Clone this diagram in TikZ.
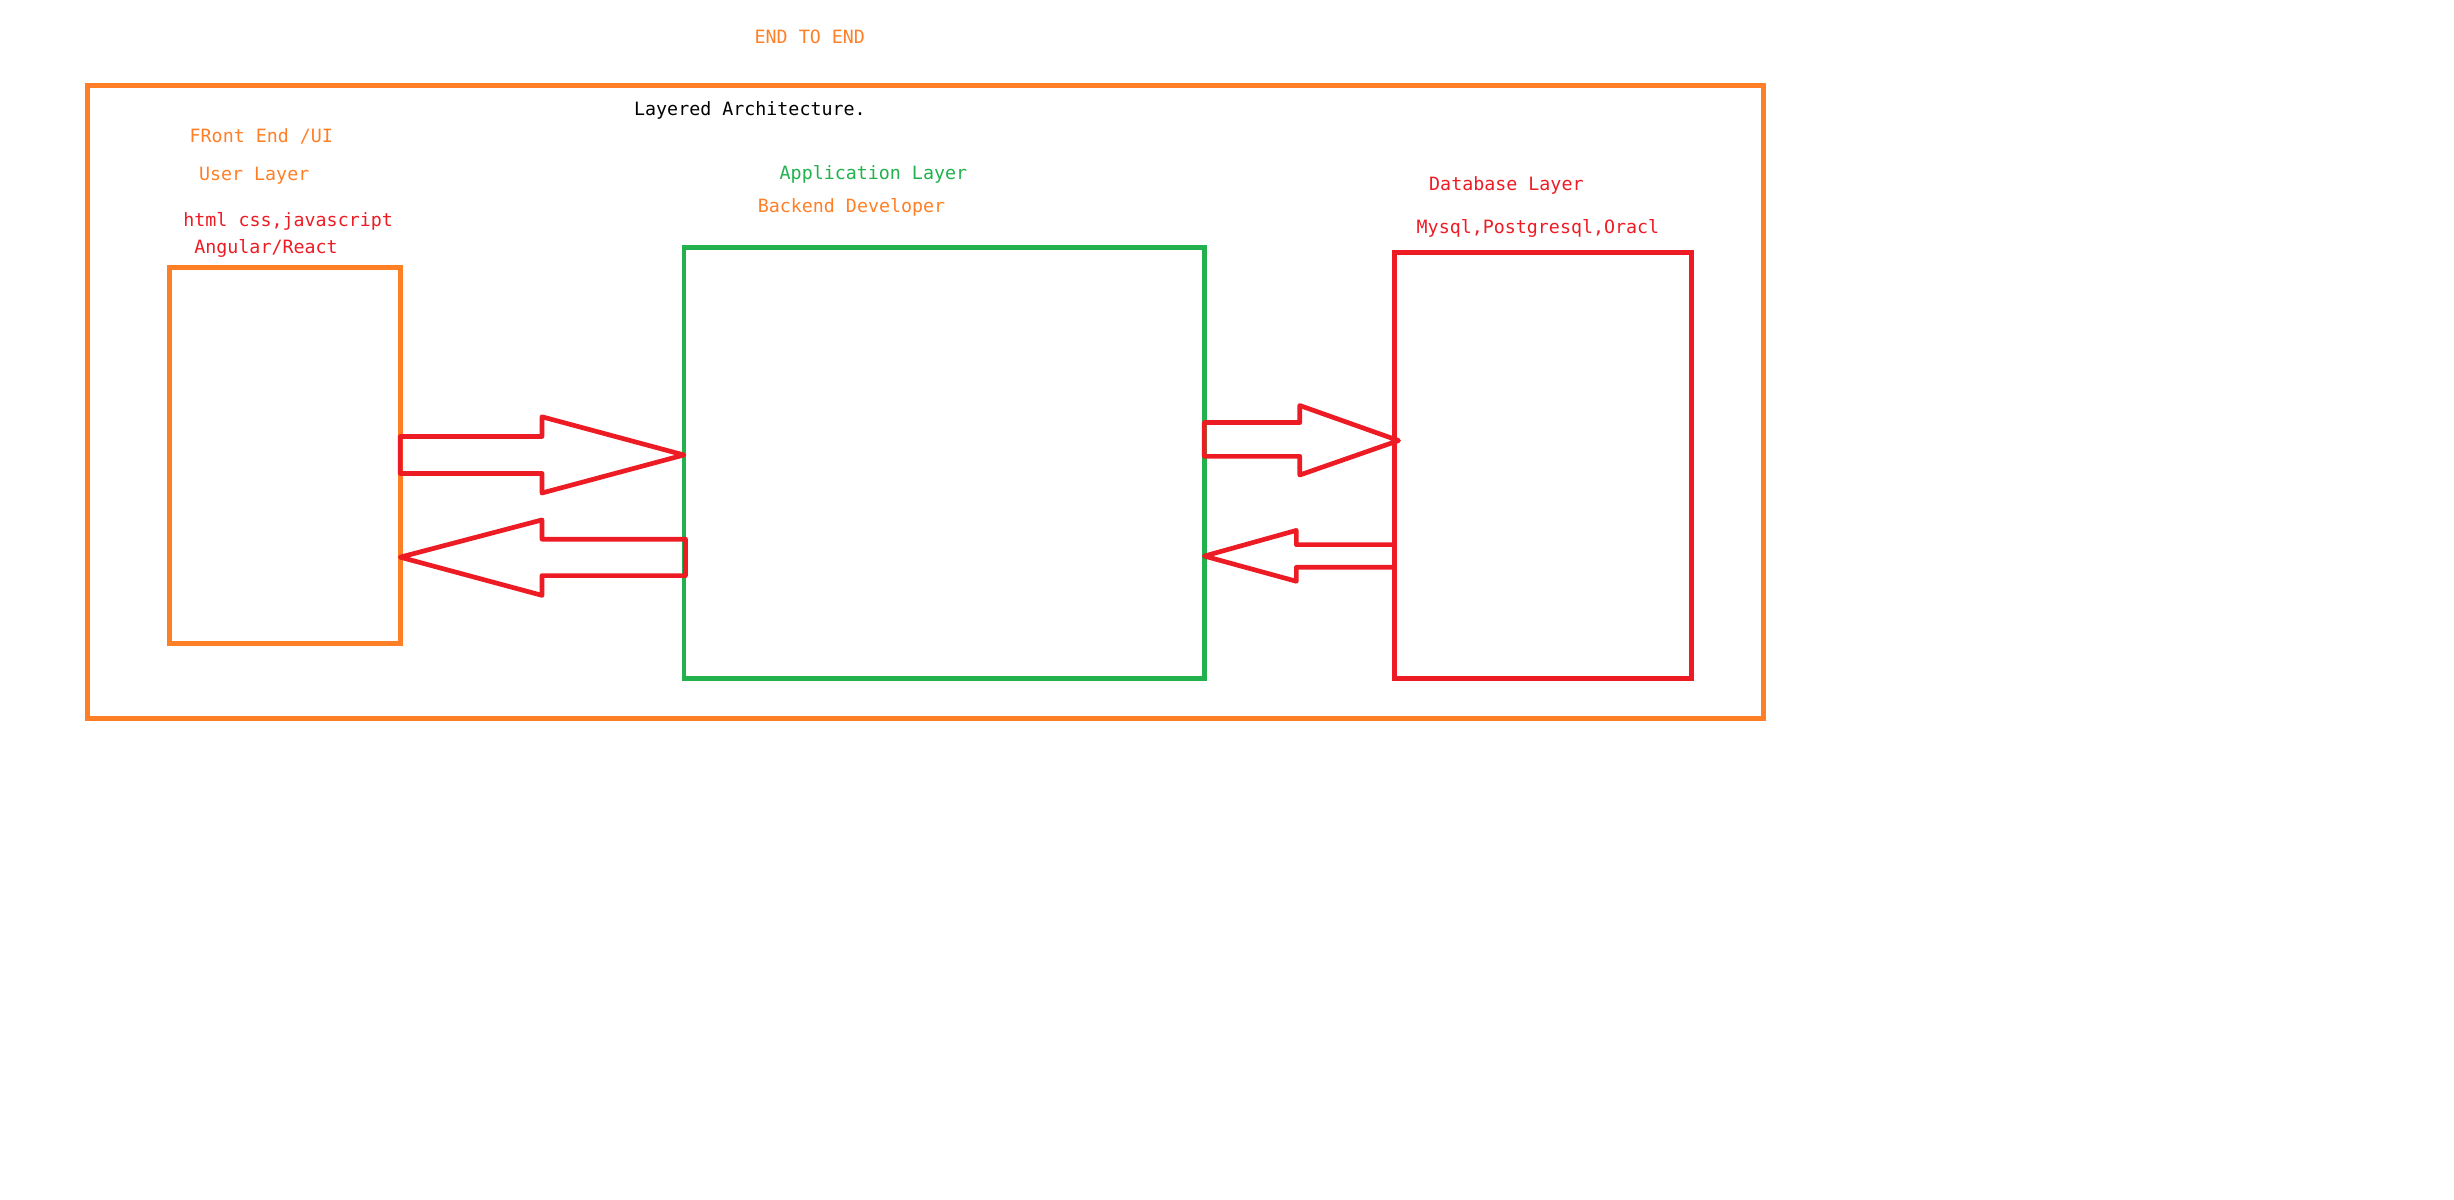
\documentclass[tikz,border=0pt]{standalone}
\usepackage{fontspec}
\setmonofont{DejaVu Sans Mono}
\usepackage{tikz}
\definecolor{paintorange}{RGB}{255,127,39}
\definecolor{paintgreen}{RGB}{34,177,76}
\definecolor{paintred}{RGB}{237,28,36}
\tikzstyle{layerbox} = [draw, line width=3pt, outer sep=0pt, inner sep=0pt]
\tikzstyle{fat} = [draw=paintred, line width=3pt, line join=round]
\tikzstyle{lbl} = [anchor=base west, inner sep=0pt, font=\ttfamily\fontsize{11.7}{14}\selectfont]

\begin{document}
\begin{tikzpicture}[x=1pt,y=-1pt]
    \useasboundingbox (0,0) rectangle (1568,766.7);
    % frame round the whole stack
    \node[layerbox, draw=paintorange, minimum width=1071pt, minimum height=404.4pt] (frame) at (591.5,256.8) {};
    \node[lbl, text=paintorange] (endtoend) at (482,28) {END TO END};
    \node[lbl, text=black] (title) at (405,74) {Layered Architecture.};

    % the three layers
    \node[layerbox, draw=paintorange, minimum width=147.2pt, minimum height=240.2pt] (ui) at (182.1,290.9) {};
    \node[layerbox, draw=paintgreen, minimum width=332.5pt, minimum height=275.3pt] (app) at (603.25,295.85) {};
    \node[layerbox, draw=paintred, minimum width=189.7pt, minimum height=272pt] (db) at (985.85,297.3) {};

    \node[lbl, text=paintorange] (uiname) at (121,91) {FRont End /UI};
    \node[lbl, text=paintorange] (uilayer) at (127,115.5) {User Layer};
    \node[lbl, text=paintred] (uitech) at (117,145) {html css,javascript};
    \node[lbl, text=paintred] (uifw) at (124,162) {Angular/React};
    \node[lbl, text=paintgreen] (applayer) at (498,114.5) {Application Layer};
    \node[lbl, text=paintorange] (appdev) at (484,136) {Backend Developer};
    \node[lbl, text=paintred] (dblayer) at (913,122) {Database Layer};
    \node[lbl, text=paintred] (dbtech) at (905,149.5) {Mysql,Postgresql,Oracl};

    % block arrows between the layers
    \draw[fat] (ui.east |- 0,278.9) -- (346.3,278.9) -- (346.3,266.3) -- (app.west |- 0,290.7)
        -- (346.3,315) -- (346.3,302.5) -- (ui.east |- 0,302.5) -- cycle;
    \draw[fat] (ui.east |- 0,356) -- (346.3,332.2) -- (346.3,344.5) -- (438,344.5)
        -- (438,367.8) -- (346.3,367.8) -- (346.3,380.4) -- cycle;
    \draw[fat] (app.east |- 0,270) -- (830.5,270) -- (830.5,259.1) -- (893.6,281.5)
        -- (830.5,303.5) -- (830.5,291.6) -- (app.east |- 0,291.6) -- cycle;
    \draw[fat] (app.east |- 0,355.3) -- (828.3,338.9) -- (828.3,348) -- (db.west |- 0,348)
        -- (db.west |- 0,362.5) -- (828.3,362.5) -- (828.3,371.4) -- cycle;
\end{tikzpicture}
\end{document}
